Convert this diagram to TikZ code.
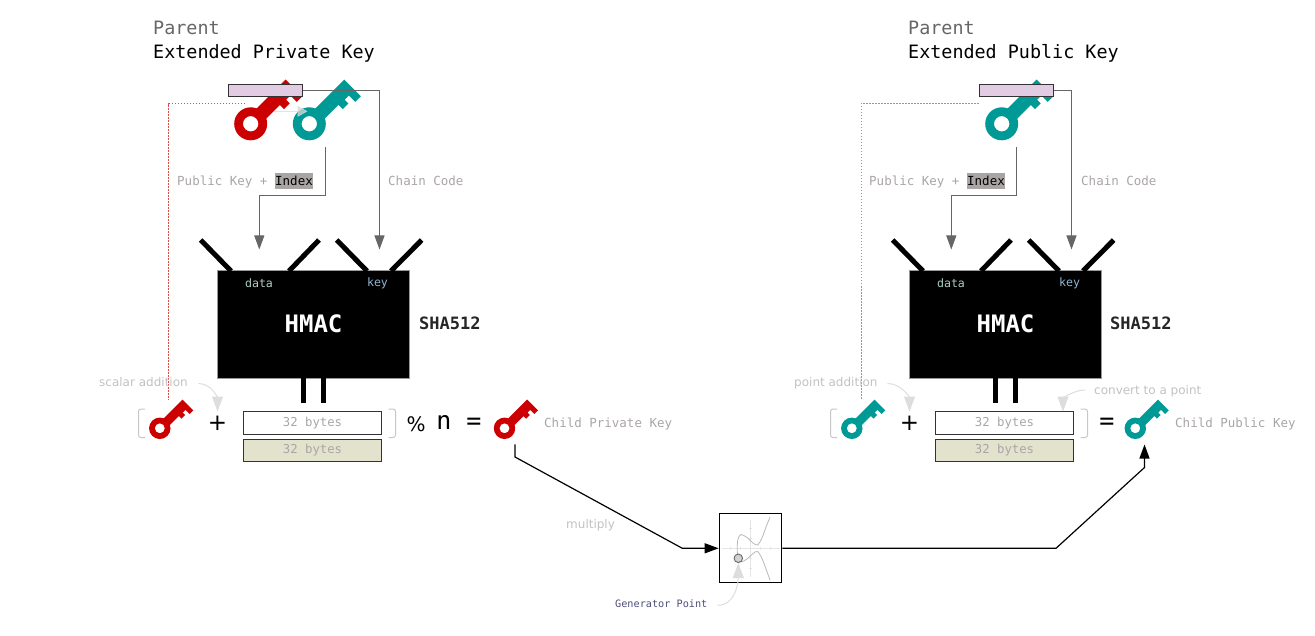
\documentclass[tikz,border=0pt]{standalone}
\usepackage{fontspec}
\setsansfont{DejaVu Sans}
\setmonofont{DejaVu Sans Mono}
\usetikzlibrary{positioning,arrows.meta}
\definecolor{keyred}{HTML}{CC0000}
\definecolor{keyteal}{HTML}{009A96}
\definecolor{barfill}{HTML}{E1CCE3}
\definecolor{olivefill}{HTML}{E3E3CD}
\definecolor{edgegray}{HTML}{666666}
\definecolor{labelgray}{HTML}{AAA5A5}
\definecolor{notegray}{HTML}{C4C0C0}
\definecolor{hintgray}{HTML}{DDDDDD}
\definecolor{portdata}{HTML}{B0CCC4}
\definecolor{portkey}{HTML}{8FB4D4}

\begin{document}
\begin{tikzpicture}[
  x=1pt, y=-1pt,
  keyicon/.pic={
    \fill[pic actions, even odd rule] (0,0) circle (16.5) (0,0) circle (7.7);
    \fill[pic actions] (13,-6.6) -- (56,-6.6) -- (56,17) -- (48,17) -- (48,8) -- (42,8) -- (42,13.2) -- (34,13.2) -- (34,7.3) -- (13,7.3) -- cycle;
  },
  title/.style={anchor=base west, inner sep=0pt, font=\ttfamily\fontsize{18.4}{20}\selectfont},
  monolabel/.style={anchor=base west, inner sep=0pt, text=labelgray, font=\ttfamily\fontsize{12.5}{14}\selectfont},
  indexbox/.style={fill=labelgray, inner sep=0pt, minimum width=38pt, minimum height=16pt, text=black, font=\ttfamily\fontsize{12.5}{14}\selectfont},
  note/.style={anchor=base west, inner sep=0pt, text=notegray, font=\sffamily\fontsize{12}{14}\selectfont},
  keybar/.style={draw=black!80, line width=1pt, fill=barfill, minimum width=74pt, minimum height=12pt, inner sep=0pt},
  hmacbox/.style={draw=black!40, line width=.6pt, fill=black, minimum width=192.5pt, minimum height=107.5pt, inner sep=0pt},
  hmactext/.style={text=white, font=\ttfamily\bfseries\fontsize{24}{26}\selectfont},
  port/.style={font=\ttfamily\fontsize{11.6}{13}\selectfont},
  hashname/.style={anchor=base west, inner sep=0pt, text=black!85, font=\ttfamily\bfseries\fontsize{17}{19}\selectfont},
  bytes/.style={draw=black!80, line width=1.1pt, minimum width=138.5pt, inner sep=0pt, text=labelgray, font=\ttfamily\fontsize{12.3}{14}\selectfont},
  mathsign/.style={inner sep=0pt, text=black, font=\sffamily\fontsize{23}{25}\selectfont},
  mathmono/.style={inner sep=0pt, text=black, font=\ttfamily\fontsize{25}{27}\selectfont},
  pipe/.style={line width=5pt, black},
  flow/.style={-{Triangle[length=14pt,width=10pt]}, line width=1pt, edgegray},
  tapred/.style={keyred!70!white, dash pattern=on 1.5pt off 1.5pt, line width=.8pt},
  tapteal/.style={keyteal!70!white, dash pattern=on 1.5pt off 1.5pt, line width=.8pt},
  hint/.style={-{Triangle[length=15pt,width=11pt]}, line width=1pt, hintgray},
  bracket/.style={line width=1pt, hintgray!90!black, rounded corners=2.5pt},
  output/.style={-{Triangle[length=14pt,width=10pt]}, line width=1.2pt, black},
  axis/.style={line width=.7pt, black!10},
  curveline/.style={line width=.8pt, black!28}
]
\useasboundingbox (0,0) rectangle (1315,636);

% Parent private key
\node[title, text=edgegray] (parentL) at (153,35) {Parent};
\node[title] (extL) at (153,58.5) {Extended Private Key};
\pic (redkey) at (250.7,123.8) [rotate=45, fill=keyred] {keyicon};
\pic (tealkey) at (309.3,123.8) [rotate=45, fill=keyteal] {keyicon};
\node[keybar] (barL) at (265.3,90.3) {};
\coordinate (tapL) at (245,103.7);
\coordinate (tapEndL) at (168.7,400);
\coordinate (pubL) at (325,147);
\coordinate (bendL) at (259.3,195.3);
\coordinate (dataL) at (259.3,249.5);
\coordinate (chainL) at (379.5,249.5);
\coordinate (swapA) at (274,111.3);
\coordinate (swapB) at (307.5,111.3);
\draw[-{Triangle[length=10pt,width=11pt]}, line width=.8pt, white!85!black, opacity=.75] (swapA) -- (swapB);

\node[monolabel] (pubtextL) at (177,185.5) {Public Key +};
\node[indexbox] (indexL) at (294,181) {Index};
\node[monolabel] (chaintextL) at (388,185.5) {Chain Code};

% HMAC left
\node[hmacbox] (hmacL) at (313.2,324.5) {};
\draw[pipe] (200.7,240) -- (231,271);
\draw[pipe] (319,240) -- (289,271);
\draw[pipe] (336.7,240) -- (367,271);
\draw[pipe] (421.7,240) -- (391,271);
\draw[pipe] (303.5,378) -- (303.5,402.5);
\draw[pipe] (323.5,378) -- (323.5,402.5);
\node[port, text=portdata] (portdL) at (259,283.5) {data};
\node[port, text=portkey] (portkL) at (377.5,283.5) {key};
\node[hmactext] (hmactL) at (313.5,324) {HMAC};
\node[hashname] (shaL) at (419,329.5) {SHA512};

\draw[flow] (barL.east) -| (chainL);
\draw[flow] (pubL) |- (bendL) -- (dataL);
\draw[tapred] (tapL) -| (tapEndL);

% Child private key
\pic (scalarkey) at (159.8,428.3) [rotate=45, scale=.65, fill=keyred] {keyicon};
\pic (childred) at (504.5,428.3) [rotate=45, scale=.65, fill=keyred] {keyicon};
\node[mathsign] (plusL) at (217.5,423) {+};
\node[bytes, minimum height=23pt] (byteaL) at (312.5,423) {32 bytes};
\node[bytes, minimum height=22pt, fill=olivefill] (bytebL) at (312.5,450.5) {32 bytes};
\node[mathsign, font=\sffamily\fontsize{20}{22}\selectfont] (modL) at (416,424) {\%};
\node[mathmono] (nL) at (444,422) {n};
\node[mathmono] (eqL) at (474,424) {=};
\node[monolabel] (childtextL) at (544,427.5) {Child Private Key};
\node[note] (scalartext) at (99,387) {scalar addition};
\draw[bracket] (145,409) -- (138.5,409) -- (138.5,437.5) -- (145,437.5);
\draw[bracket] (388.5,409) -- (395.5,409) -- (395.5,437.5) -- (388.5,437.5);
\coordinate (scalarA) at (198.5,383.5);
\coordinate (scalarB) at (217.5,411.5);
\draw[hint] (scalarA) to[out=0, in=90] (scalarB);

% Parent public key
\node[title, text=edgegray] (parentR) at (908,35) {Parent};
\node[title] (extR) at (908,58.5) {Extended Public Key};
\pic (pubkey) at (1001.7,123.8) [rotate=45, fill=keyteal] {keyicon};
\node[keybar] (barR) at (1016.3,90.3) {};
\coordinate (tapR) at (978.5,103.5);
\coordinate (tapEndR) at (861,400);
\coordinate (pubR) at (1016.5,147);
\coordinate (bendR) at (951.3,195.3);
\coordinate (dataR) at (951.3,249.5);
\coordinate (chainR) at (1071.5,249.5);

\node[monolabel] (pubtextR) at (869,185.5) {Public Key +};
\node[indexbox] (indexR) at (986,181) {Index};
\node[monolabel] (chaintextR) at (1081,185.5) {Chain Code};

% HMAC right
\node[hmacbox] (hmacR) at (1005.2,324.5) {};
\draw[pipe] (892.7,240) -- (923,271);
\draw[pipe] (1011,240) -- (981,271);
\draw[pipe] (1028.7,240) -- (1059,271);
\draw[pipe] (1113.7,240) -- (1083,271);
\draw[pipe] (995.5,378) -- (995.5,402.5);
\draw[pipe] (1015.5,378) -- (1015.5,402.5);
\node[port, text=portdata] (portdR) at (951,283.5) {data};
\node[port, text=portkey] (portkR) at (1069.5,283.5) {key};
\node[hmactext] (hmactR) at (1005.5,324) {HMAC};
\node[hashname] (shaR) at (1110,329.5) {SHA512};

\draw[flow] (barR.east) -| (chainR);
\draw[flow] (pubR) |- (bendR) -- (dataR);
\draw[tapteal] (tapR) -| (tapEndR);

% Child public key
\pic (pointkey) at (851.8,428.3) [rotate=45, scale=.65, fill=keyteal] {keyicon};
\pic (childteal) at (1135.3,428.3) [rotate=45, scale=.65, fill=keyteal] {keyicon};
\node[mathsign] (plusR) at (909.5,423) {+};
\node[bytes, minimum height=23pt] (byteaR) at (1004.5,423) {32 bytes};
\node[bytes, minimum height=22pt, fill=olivefill] (bytebR) at (1004.5,450.5) {32 bytes};
\node[mathmono] (eqR) at (1107,424) {=};
\node[monolabel] (childtextR) at (1175,427.5) {Child Public Key};
\node[note] (pointtext) at (794,387) {point addition};
\node[note] (converttext) at (1094,394) {convert to a point};
\draw[bracket] (837,409) -- (830.5,409) -- (830.5,437.5) -- (837,437.5);
\draw[bracket] (1080.5,409) -- (1087.5,409) -- (1087.5,437.5) -- (1080.5,437.5);
\coordinate (pointA) at (887.5,383.5);
\coordinate (pointB) at (909.5,411.5);
\coordinate (convertA) at (1085,390);
\coordinate (convertB) at (1063,411.5);
\draw[hint] (pointA) to[out=0, in=90] (pointB);
\draw[hint] (convertA) to[out=180, in=90] (convertB);

% Generator point
\node[draw, line width=1.2pt, minimum width=62.5pt, minimum height=69pt, inner sep=0pt] (genbox) at (750.5,548.3) {};
\draw[axis] (722,548.3) -- (780,548.3);
\draw[axis] (750.3,520) -- (750.3,576.7);
\foreach \tick in {-20,-10,10,20} {
  \draw[axis] (750.3+\tick,546.8) -- (750.3+\tick,549.8);
  \draw[axis] (748.8,548.3+\tick) -- (751.8,548.3+\tick);
}
\draw[curveline] plot[smooth] coordinates {(770,517.3) (766,527) (762,538) (757.5,545) (753,543) (747,537.5) (741,534.5) (738,539) (737.2,548.3) (738,557.6) (741,562) (747,559) (753,553.5) (757.5,551.5) (762,558.5) (766,569) (770,580)};
\node[circle, draw=edgegray, fill=black!18, line width=.9pt, minimum size=8.5pt, inner sep=0pt] (genpoint) at (738.3,558.3) {};
\node[anchor=base west, inner sep=0pt, text=black!75!blue!70!white, font=\ttfamily\fontsize{10.2}{12}\selectfont] (gentext) at (615,607.5) {Generator Point};
\coordinate (genA) at (717.7,605.3);
\draw[hint] (genA) to[out=0, in=-90] (genpoint.south);

% Multiply path
\coordinate (mulA) at (515,444.3);
\coordinate (mulB) at (515,457);
\coordinate (mulC) at (682.3,548.3);
\coordinate (outA) at (1056,548.3);
\coordinate (outB) at (1144.5,467.5);
\coordinate (outC) at (1144.5,444.5);
\draw[output] (mulA) -- (mulB) -- (mulC) -- (genbox.west);
\draw[output] (genbox.east) -- (outA) -- (outB) -- (outC);
\node[note] (multext) at (566,528) {multiply};

\end{tikzpicture}
\end{document}
